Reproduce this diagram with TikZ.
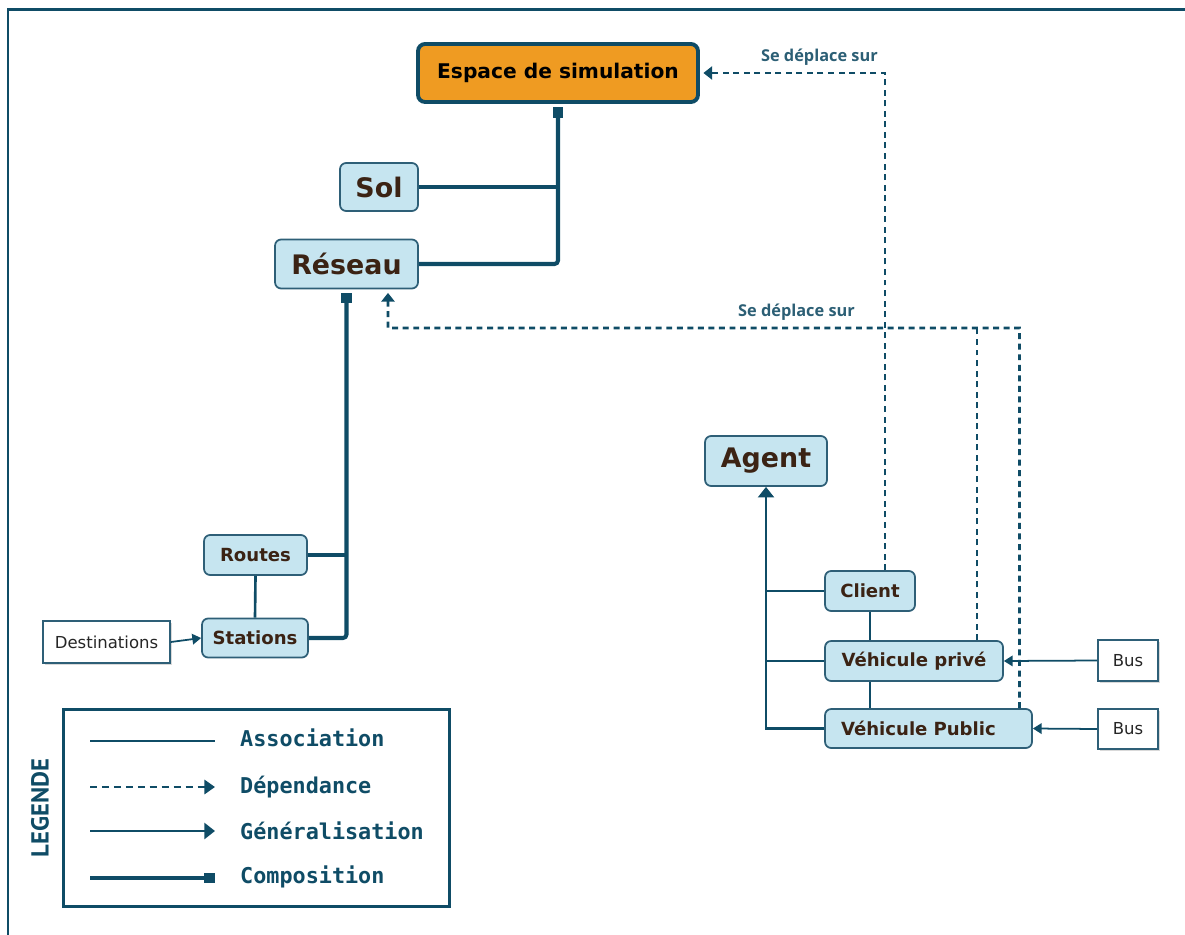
\documentclass[tikz,border=0pt]{standalone}
\usepackage{fontspec}
\setmainfont{DejaVu Sans}
\newfontfamily\legfont{DejaVu Sans Mono}
\newfontfamily\lblfont{Open Sans}
\newfontfamily\titfont{PT Sans}
\usetikzlibrary{arrows.meta,shadows}

\definecolor{dark}{HTML}{0F4C66}
\definecolor{clsfill}{HTML}{C6E5F0}
\definecolor{clsline}{HTML}{2E5F77}
\definecolor{clstext}{HTML}{3B2314}
\definecolor{orange}{HTML}{EF9B22}
\definecolor{lbltext}{HTML}{2C5F75}

\tikzset{cls/.style={draw=clsline, fill=clsfill, rounded corners=3.5pt, line width=1pt, text=clstext}}
\tikzset{big/.style={cls, font=\fontsize{15.3}{18}\selectfont\bfseries}}
\tikzset{small/.style={cls, font=\fontsize{10.3}{12}\selectfont\bfseries}}
\tikzset{plain/.style={draw=clsline, fill=white, line width=1pt, text=black!85,
    font=\fontsize{9.4}{11}\selectfont,
    drop shadow={shadow xshift=1.2pt, shadow yshift=-1.2pt, opacity=0.3}}}
\tikzset{compo/.style={draw=dark, line width=2.3pt, rounded corners=2pt}}
\tikzset{assoc/.style={draw=dark, line width=1.5pt}}
\tikzset{gen/.style={assoc, -{Triangle[width=9pt,length=6pt]}}}
\tikzset{dep/.style={draw=dark, line width=1.6pt, dash pattern=on 3.4pt off 2.6pt,
    -{Triangle[width=7.5pt,length=5pt]}}}
\tikzset{lbl/.style={text=lbltext, font=\lblfont\fontsize{9.3}{11}\selectfont\bfseries}}

\begin{document}
\begin{tikzpicture}[x=0.02cm, y=-0.02cm,
		legtext/.style={anchor=west, text=dark, font=\legfont\fontsize{12.4}{14}\selectfont\bfseries}
		]
		\useasboundingbox (0,0) rectangle (1185,935);
		% cadre
		\draw[dark, line width=1.7pt] (1185,10) -- (8,10) -- (8,935);

		% classes
		\node[draw=dark, fill=orange, line width=2.2pt, rounded corners=4pt,
			minimum width=5.6cm, minimum height=1.16cm,
			font=\fontsize{11.5}{14}\selectfont\bfseries] (espace) at (558,73) {Espace de simulation};
		\node[big, minimum width=1.56cm, minimum height=0.96cm] (sol) at (379,187) {Sol};
		\node[big, minimum width=2.86cm, minimum height=0.98cm] (reseau) at (346.5,264) {Réseau};
		\node[big, minimum width=2.44cm, minimum height=1cm] (agent) at (766,461) {Agent};
		\node[small, minimum width=2.06cm, minimum height=0.8cm] (routes) at (255.5,555) {Routes};
		\node[small, minimum width=2.12cm, minimum height=0.78cm] (stations) at (255,638) {Stations};
		\node[plain, minimum width=2.54cm, minimum height=0.84cm] (dest) at (106.5,642) {Destinations};
		\node[small, minimum width=1.8cm, minimum height=0.8cm] (client) at (870,591) {Client};
		\node[small, minimum width=3.56cm, minimum height=0.8cm] (vpriv) at (914,661) {Véhicule privé};
		\node[small, minimum width=4.14cm, minimum height=0.78cm, text width=3.5cm, align=left]
			(vpub) at (928.5,728.5) {Véhicule Public};
		\node[plain, minimum width=1.2cm, minimum height=0.82cm] (bus1) at (1128,660.5) {Bus};
		\node[plain, minimum width=1.2cm, minimum height=0.8cm] (bus2) at (1128,729) {Bus};

		% compositions
		\draw[compo, {Square[length=6pt,width=6pt]}-, shorten <=2pt] (espace.south) |- (reseau.east);
		\draw[compo] (sol.east) -- (sol.east -| espace.south);
		\draw[compo, {Square[length=6pt,width=6pt]}-, shorten <=2pt] (reseau.south) |- (stations.east);
		\draw[compo] (routes.east) -- (routes.east -| reseau.south);

		% associations
		\draw[assoc] (routes.south) -- (stations.north);
		\draw[assoc] (client.south) -- (client.south |- vpriv.north);
		\draw[assoc] (vpriv.south -| client.south) -- (vpub.north -| client.south);
		\draw[draw=dark, line width=1pt, -{Triangle[width=6pt,length=5pt]}] (dest.east) -- (stations.west);
		\draw[draw=dark, line width=1pt, -{Triangle[width=6pt,length=5pt]}] (bus1.west) -- (vpriv.east);
		\draw[draw=dark, line width=1pt, -{Triangle[width=6pt,length=5pt]}] (bus2.west) -- (vpub.east);

		% generalisation
		\draw[gen] (vpub.west) -| (agent.south);
		\draw[assoc] (client.west) -- (client.west -| agent.south);
		\draw[assoc] (vpriv.west) -- (vpriv.west -| agent.south);

		% dependances
		\draw[dep, shorten >=2pt] ([xshift=0.3cm]client.north) |- (espace.east)
			node[lbl, pos=0.5, above left=0pt] (sd1) {Se déplace sur};
		\coordinate (bend) at (388,328);
		\draw[dep, shorten >=2pt] ([xshift=1.82cm]vpub.north) |- (bend) -- ([xshift=0.83cm]reseau.south);
		\draw[dep, -] ([xshift=1.26cm]vpriv.north) -- ([xshift=1.26cm]vpriv.north |- bend);
		\node[lbl, anchor=south east] (sd2) at (861,327) {Se déplace sur};

		% legende
		\node[draw=dark, line width=1.7pt, minimum width=7.74cm, minimum height=3.96cm] (legend) at (256.5,808) {};
		\node[rotate=90, text=dark, font=\titfont\fontsize{14}{16}\selectfont\bfseries] (legtitle) at (40,808) {LEGENDE};
		\coordinate (a1) at (90,741); \coordinate (a2) at (215,741);
		\coordinate (d1) at (90,787); \coordinate (d2) at (215,787);
		\coordinate (g1) at (90,831); \coordinate (g2) at (215,831);
		\coordinate (c1) at (90,878); \coordinate (c2) at (215,878);
		\draw[assoc] (a1) -- (a2);
		\draw[dep, dash pattern=on 4pt off 2.8pt, -{Triangle[width=8pt,length=6pt]}] (d1) -- (d2);
		\draw[gen] (g1) -- (g2);
		\draw[compo, -{Square[length=6pt,width=6pt]}] (c1) -- (c2);
		\node[legtext] (l1) at (234,738) {Association};
		\node[legtext] (l2) at (234,787) {Dépendance};
		\node[legtext] (l3) at (234,831) {Généralisation};
		\node[legtext] (l4) at (234,877) {Composition};
	\end{tikzpicture}
\end{document}
